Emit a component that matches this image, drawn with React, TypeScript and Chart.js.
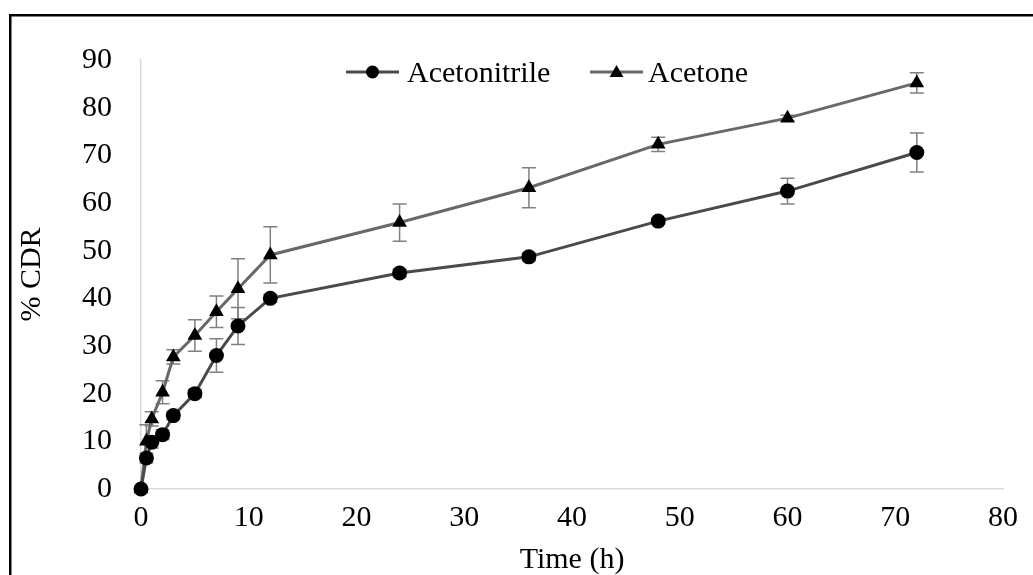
import React, { useEffect, useRef } from "react";
import { Chart, registerables } from "chart.js";

Chart.register(...registerables);

// Sampling times (h)
const timeHours = [0, 0.5, 1, 2, 3, 5, 7, 9, 12, 24, 36, 48, 60, 72];

// Cumulative drug release (%) with standard deviations
const acetonitrileCDR = [0, 6.5, 9.8, 11.4, 15.4, 20.0, 28.0, 34.2, 40.0, 45.3, 48.7, 56.2, 62.5, 70.6];
const acetonitrileSD = [0, 1.0, 1.2, 1.0, 0.8, 0.8, 3.5, 3.9, 0.8, 0.8, 0.8, 0.6, 2.7, 4.1];
const acetoneCDR = [0, 10.0, 14.7, 20.3, 27.7, 32.2, 37.2, 42.0, 49.1, 55.9, 63.2, 72.3, 77.8, 85.2];
const acetoneSD = [0, 3.5, 1.5, 2.4, 1.5, 3.3, 3.3, 6.3, 5.9, 3.9, 4.2, 1.5, 0.6, 2.1];

const seriesNames = ["Acetonitrile", "Acetone"];
const xTicks = [0, 10, 20, 30, 40, 50, 60, 70, 80];
const yTicks = [0, 10, 20, 30, 40, 50, 60, 70, 80, 90];

const FONT = "'Liberation Serif', 'Times New Roman', serif";
const LINE_COLORS = ["#4a4a4a", "#686868"];
const errorSets = [acetonitrileSD, acetoneSD];

const errorBarPlugin = {
  id: "errorBars",
  beforeDatasetsDraw(chart: any) {
    const { ctx, scales } = chart;
    ctx.save();
    ctx.strokeStyle = "#808080";
    ctx.lineWidth = 1.5;
    chart.data.datasets.forEach((ds: any, i: number) => {
      const errs = errorSets[i];
      ds.data.forEach((p: any, j: number) => {
        const e = errs[j];
        if (!e) return;
        const x = scales.x.getPixelForValue(p.x);
        const yTop = scales.y.getPixelForValue(p.y + e);
        const yBot = scales.y.getPixelForValue(p.y - e);
        ctx.beginPath();
        ctx.moveTo(x, yTop);
        ctx.lineTo(x, yBot);
        ctx.moveTo(x - 7, yTop);
        ctx.lineTo(x + 7, yTop);
        ctx.moveTo(x - 7, yBot);
        ctx.lineTo(x + 7, yBot);
        ctx.stroke();
      });
    });
    ctx.restore();
  },
};

function drawMarker(ctx: CanvasRenderingContext2D, style: string, x: number, y: number, r: number) {
  ctx.beginPath();
  if (style === "circle") {
    ctx.arc(x, y, r, 0, Math.PI * 2);
  } else {
    let a = 0;
    ctx.moveTo(x + Math.sin(a) * r, y - Math.cos(a) * r);
    a += (2 * Math.PI) / 3;
    ctx.lineTo(x + Math.sin(a) * r, y - Math.cos(a) * r);
    a += (2 * Math.PI) / 3;
    ctx.lineTo(x + Math.sin(a) * r, y - Math.cos(a) * r);
    ctx.closePath();
  }
  ctx.fillStyle = "#000";
  ctx.fill();
}

const legendAndFramePlugin = {
  id: "legendAndFrame",
  afterDraw(chart: any) {
    const { ctx } = chart;
    ctx.save();
    // legend entries
    const items = [
      { x0: 346, x1: 399, tx: 407, style: "circle", r: 6.5 },
      { x0: 590, x1: 643, tx: 648, style: "triangle", r: 8 },
    ];
    const ly = 72;
    items.forEach((it, i) => {
      ctx.strokeStyle = LINE_COLORS[i];
      ctx.lineWidth = 3;
      ctx.beginPath();
      ctx.moveTo(it.x0, ly);
      ctx.lineTo(it.x1, ly);
      ctx.stroke();
      drawMarker(ctx, it.style, (it.x0 + it.x1) / 2, ly + (it.style === "triangle" ? 1 : 0), it.r);
      ctx.fillStyle = "#000";
      ctx.font = `30px ${FONT}`;
      ctx.textAlign = "left";
      ctx.textBaseline = "alphabetic";
      ctx.fillText(seriesNames[i], it.tx, 82);
    });
    // outer frame
    ctx.strokeStyle = "#000";
    ctx.lineWidth = 2.5;
    ctx.strokeRect(10.25, 15.25, 1200, 800);
    ctx.restore();
  },
};

export default function App() {
  const canvasRef = useRef<HTMLCanvasElement | null>(null);

  useEffect(() => {
    if (!canvasRef.current) return;
    const mk = (ys: number[]) => timeHours.map((t, i) => ({ x: t, y: ys[i] }));
    const chart = new Chart(canvasRef.current, {
      type: "line",
      data: {
        datasets: [
          {
            label: seriesNames[0],
            data: mk(acetonitrileCDR),
            borderColor: LINE_COLORS[0],
            borderWidth: 3,
            pointStyle: "circle",
            pointRadius: 7.5,
            pointBackgroundColor: "#000",
            pointBorderColor: "#000",
            pointBorderWidth: 0,
            clip: false,
          },
          {
            label: seriesNames[1],
            data: mk(acetoneCDR),
            borderColor: LINE_COLORS[1],
            borderWidth: 3,
            pointStyle: "triangle",
            pointRadius: 8.5,
            pointBackgroundColor: "#000",
            pointBorderColor: "#000",
            pointBorderWidth: 0,
            clip: false,
          },
        ],
      },
      options: {
        animation: false,
        responsive: false,
        devicePixelRatio: 1,
        layout: { padding: { left: 0, right: 30, top: 60, bottom: 0 } },
        plugins: { legend: { display: false }, tooltip: { enabled: false } },
        scales: {
          x: {
            type: "linear",
            min: 0,
            max: 80,
            afterFit: (s: any) => {
              s.height = 86;
            },
            afterBuildTicks: (s: any) => {
              s.ticks = xTicks.map((v) => ({ value: v }));
            },
            grid: { display: false, drawTicks: false },
            border: { display: true, color: "#d9d9d9", width: 1.5 },
            ticks: {
              color: "#000",
              padding: 14,
              maxRotation: 0,
              font: { family: FONT, size: 30, lineHeight: 1 },
            },
            title: {
              display: true,
              text: "Time (h)",
              color: "#000",
              padding: { top: 0, bottom: 0 },
              font: { family: FONT, size: 30, lineHeight: 1 },
            },
          },
          y: {
            type: "linear",
            min: 0,
            max: 90,
            afterFit: (s: any) => {
              s.width = 141;
            },
            afterBuildTicks: (s: any) => {
              s.ticks = yTicks.map((v) => ({ value: v }));
            },
            grid: { display: false, drawTicks: false },
            border: { display: true, color: "#d9d9d9", width: 1.5 },
            ticks: {
              color: "#000",
              padding: 29,
              font: { family: FONT, size: 30, lineHeight: 1 },
            },
            title: {
              display: true,
              text: "% CDR",
              color: "#000",
              padding: { top: 17, bottom: 0 },
              font: { family: FONT, size: 30, lineHeight: 1 },
            },
          },
        },
      },
      plugins: [errorBarPlugin, legendAndFramePlugin],
    } as any);
    return () => chart.destroy();
  }, []);

  return (
    <div style={{ position: "fixed", left: 0, top: 0, width: 1033, height: 575, overflow: "hidden", background: "#fff" }}>
      <canvas ref={canvasRef} width={1033} height={575} style={{ width: 1033, height: 575, display: "block" }} />
    </div>
  );
}
